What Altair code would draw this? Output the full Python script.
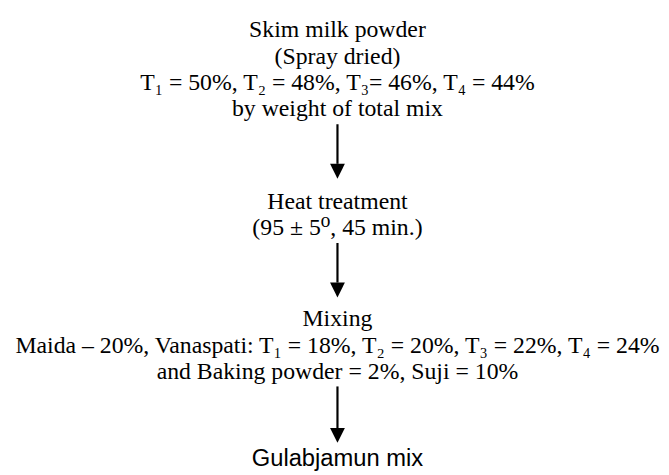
import altair as alt
import pandas as pd

# ---- content ----
serif_lines = [
    "Skim milk powder",
    "(Spray dried)",
    "T\u2081 = 50%, T\u2082 = 48%, T\u2083= 46%, T\u2084 = 44%",
    "by weight of total mix",
    "Heat treatment",
    "(95 \u00b1 5\u2070, 45 min.)",
    "Mixing",
    "Maida \u2013 20%, Vanaspati: T\u2081 = 18%, T\u2082 = 20%, T\u2083 = 22%, T\u2084 = 24%",
    "and Baking powder = 2%, Suji = 10%",
]
final_label = ["Gulabjamun mix"]

# ---- layout (page pixel coordinates) ----
CX = 341
serif_y = [28, 55, 81, 108, 202, 228, 320, 347, 373]
final_y = [461]
arrow_top = [123, 243, 388]
arrow_tip = [178, 298, 445]
HEAD = 15

W, H = 653, 459
xs = alt.Scale(domain=[8, 8 + W], nice=False, zero=False)
ys = alt.Scale(domain=[8, 8 + H], range=[0, H], nice=False, zero=False)

txt = pd.DataFrame({"t": serif_lines, "x": [CX] * len(serif_lines), "y": serif_y})
fin = pd.DataFrame({"t": final_label, "x": [CX], "y": final_y})
arr = pd.DataFrame({
    "x": [CX] * 3,
    "y1": arrow_top,
    "y2": [t - HEAD for t in arrow_tip],
    "yh": [t - HEAD / 2 for t in arrow_tip],
})

serif = alt.Chart(txt).mark_text(
    font="Liberation Serif, DejaVu Serif, serif", fontSize=24, color="black",
    baseline="middle", align="center"
).encode(x=alt.X("x:Q", scale=xs, axis=None), y=alt.Y("y:Q", scale=ys, axis=None), text="t:N")

final = alt.Chart(fin).mark_text(
    font="Liberation Sans, Arial, sans-serif", fontSize=24, color="black",
    baseline="middle", align="center"
).encode(x=alt.X("x:Q", scale=xs, axis=None), y=alt.Y("y:Q", scale=ys, axis=None), text="t:N")

shaft = alt.Chart(arr).mark_rule(color="black", strokeWidth=2.2).encode(
    x=alt.X("x:Q", scale=xs, axis=None), y=alt.Y("y1:Q", scale=ys, axis=None), y2="y2:Q"
)
head = alt.Chart(arr).mark_point(
    shape="M-1,-1L1,-1L0,1Z", filled=True, color="black", opacity=1, size=HEAD * HEAD
).encode(x=alt.X("x:Q", scale=xs, axis=None), y=alt.Y("yh:Q", scale=ys, axis=None))

chart = alt.layer(serif, final, shaft, head).properties(
    width=W, height=H, padding=0, background="white"
).configure_view(stroke=None)

chart.save("out.html", embed_options={"renderer": "svg", "actions": False})
